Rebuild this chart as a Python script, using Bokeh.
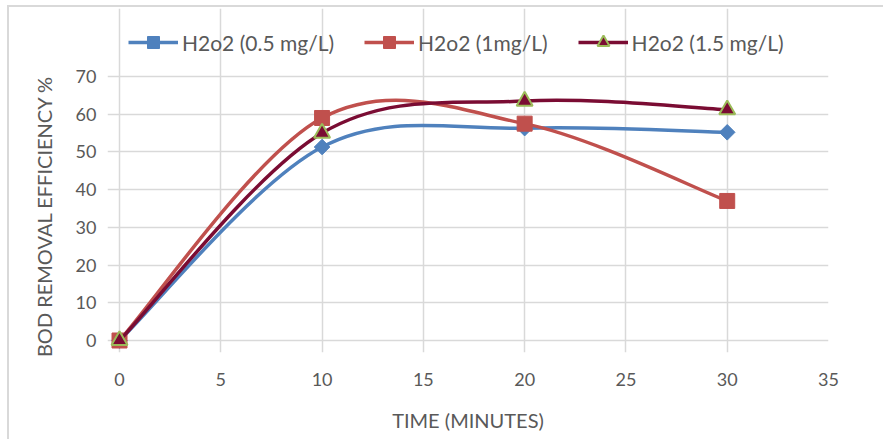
from bokeh.plotting import figure
from bokeh.models import Legend, LegendItem, FixedTicker, Range1d
from bokeh.embed import file_html
from bokeh.resources import INLINE
import math

# ---- data ----
time_min = [0, 10, 20, 30]
series_names = ["H2o2 (0.5 mg/L)", "H2o2 (1mg/L)", "H2o2 (1.5 mg/L)"]
eff_05 = [0, 51.3, 56.3, 55.2]
eff_10 = [0, 59.0, 57.5, 37.0]
eff_15 = [0, 55.0, 63.5, 61.2]
x_ticks = [0, 5, 10, 15, 20, 25, 30, 35]
y_ticks = [0, 10, 20, 30, 40, 50, 60, 70]

colors = ["#4F81BD", "#C0504D", "#7A0C33"]
FONT = "Lato"
GRAY = "#595959"
GRID = "#D9D9D9"

# data 0..70 maps to page y 340..76, 0..35 to page x 119..828
PX_Y = (340 - 76) / 70.0
PX_X = (828 - 119) / 35.0
Y_TOP = 70 + (76 - 8) / PX_Y
Y_BOT = -12 / PX_Y
X_LEFT = -12 / PX_X


def smooth_segments(xs, ys):
    """Bezier control points for an Excel-like smoothed line."""
    n = len(xs)
    seg = dict(x0=[], y0=[], x1=[], y1=[], cx0=[], cy0=[], cx1=[], cy1=[])
    for i in range(n - 1):
        pxp, pyp = (xs[i - 1], ys[i - 1]) if i > 0 else (xs[i], ys[i])
        pxn, pyn = (xs[i + 2], ys[i + 2]) if i + 2 < n else (xs[i + 1], ys[i + 1])
        seg["x0"].append(xs[i]); seg["y0"].append(ys[i])
        seg["x1"].append(xs[i + 1]); seg["y1"].append(ys[i + 1])
        seg["cx0"].append(xs[i] + (xs[i + 1] - pxp) / 6)
        seg["cy0"].append(ys[i] + (ys[i + 1] - pyp) / 6)
        seg["cx1"].append(xs[i + 1] - (pxn - xs[i]) / 6)
        seg["cy1"].append(ys[i + 1] - (pyn - ys[i]) / 6)
    return seg


p = figure(width=883, height=439, output_backend="svg", toolbar_location=None,
           x_range=Range1d(X_LEFT, 35), y_range=Range1d(Y_BOT, Y_TOP),
           min_border_left=107, min_border_right=55, min_border_top=8,
           min_border_bottom=87)
p.outline_line_color = None
p.background_fill_color = "white"
p.border_fill_color = None
p.styles = {
    "background": "linear-gradient(#D9D9D9,#D9D9D9) 7px 5px / 2px 434px no-repeat, "
                  "linear-gradient(#D9D9D9,#D9D9D9) 7px 5px / 876px 2px no-repeat, white"
}

for ax, ticks in ((p.xaxis, x_ticks), (p.yaxis, y_ticks)):
    ax.ticker = FixedTicker(ticks=ticks)
    ax.axis_line_color = None
    ax.major_tick_line_color = None
    ax.minor_tick_line_color = None
    ax.major_label_text_font = FONT
    ax.major_label_text_font_size = "18px"
    ax.major_label_text_color = GRAY
    ax.axis_label_text_font = FONT
    ax.axis_label_text_font_size = "20px"
    ax.axis_label_text_color = GRAY
    ax.axis_label_text_font_style = "normal"

p.xaxis.axis_label = "TIME (MINUTES)"
# trailing no-break spaces keep the title centred on the 0-70 span
p.yaxis.axis_label = "BOD REMOVAL EFFICIENCY %" + "\u00a0" * 14
p.xaxis.major_label_standoff = 14
p.xaxis.axis_label_standoff = 19
p.yaxis.major_label_standoff = 5
p.yaxis.axis_label_standoff = 17

p.xgrid.ticker = FixedTicker(ticks=x_ticks)
p.ygrid.ticker = FixedTicker(ticks=y_ticks)
p.xgrid.bounds = (0, 70)
p.ygrid.bounds = (0, 35)
p.grid.grid_line_color = GRID
p.grid.grid_line_width = 1.5

items = []
all_series = [eff_05, eff_10, eff_15]
for k, (name, ys, c) in enumerate(zip(series_names, all_series, colors)):
    seg = smooth_segments(time_min, ys)
    r_line = p.bezier(x0="x0", y0="y0", x1="x1", y1="y1", cx0="cx0", cy0="cy0",
                      cx1="cx1", cy1="cy1", source=seg, line_color=c, line_width=3.5)
    if k == 0:
        r_mk = p.scatter(time_min, ys, marker="square", angle=math.pi / 4, size=11,
                         fill_color=c, line_color=c)
    elif k == 1:
        r_mk = p.scatter(time_min, ys, marker="square", size=15,
                         fill_color=c, line_color=c)
    else:
        r_mk = p.scatter(time_min, ys, marker="triangle", size=16,
                         fill_color=c, line_color="#9BBB59", line_width=2)
    items.append(LegendItem(label=name, renderers=[r_line, r_mk]))

legend = Legend(items=items, orientation="horizontal", location=(21, 295),
                label_text_font=FONT, label_text_font_size="21px",
                label_text_color=GRAY, glyph_width=50, glyph_height=30,
                label_standoff=4, spacing=30, border_line_color=None,
                background_fill_alpha=0, margin=0, padding=5)
p.add_layout(legend, "center")

open("out.html", "w").write(file_html(p, INLINE))
